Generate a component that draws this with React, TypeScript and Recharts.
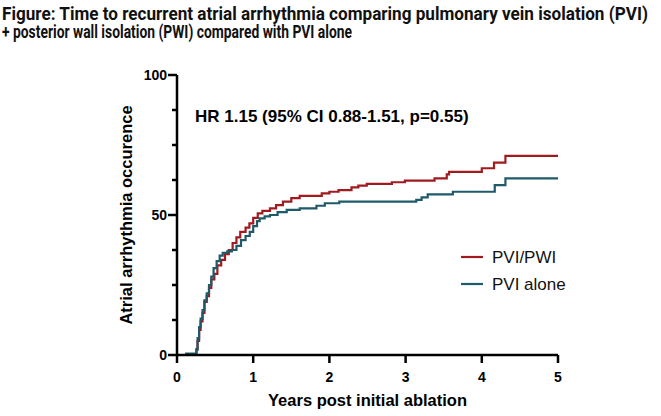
import React, { useLayoutEffect, useRef, useState } from 'react';
import { ComposedChart, Line, XAxis, YAxis, Legend } from 'recharts';

// Kaplan-Meier style cumulative incidence, years vs percent
const pviPwiYears = [0, 0.255, 0.27, 0.29, 0.31, 0.335, 0.36, 0.39, 0.42, 0.45, 0.49, 0.53, 0.58, 0.63, 0.68, 0.73, 0.78, 0.83, 0.9, 0.95, 1.0, 1.06, 1.12, 1.22, 1.3, 1.39, 1.5, 1.61, 1.9, 2.0, 2.12, 2.29, 2.38, 2.49, 2.82, 2.99, 3.38, 3.54, 3.57, 4.0, 4.16, 4.31, 5.0];
const pviPwiEvents = [0, 2, 5, 9, 12, 15, 19, 21, 24, 27, 29, 32, 34, 36, 37.5, 40, 42, 44, 45.5, 47, 49, 50.6, 51.5, 52.4, 53.5, 54.8, 56, 56.8, 57.7, 58.3, 58.9, 59.9, 60.5, 61.1, 61.7, 62.3, 63.1, 64.5, 65.4, 66.7, 68.7, 71.1, 71.1];

const pviAloneYears = [0, 0.12, 0.255, 0.27, 0.29, 0.31, 0.335, 0.36, 0.39, 0.42, 0.45, 0.48, 0.52, 0.56, 0.6, 0.66, 0.72, 0.78, 0.84, 0.9, 0.955, 1.0, 1.05, 1.085, 1.15, 1.22, 1.32, 1.44, 1.61, 1.83, 1.94, 2.13, 3.14, 3.21, 3.29, 3.62, 4.17, 4.31, 5.0];
const pviAloneEvents = [0, 0.5, 2, 6, 10, 13, 16, 19.5, 22, 25, 28, 31, 33.5, 35.5, 36.5, 37, 37.5, 39, 41, 42.5, 44, 46, 47.8, 48.8, 49.5, 50, 51, 51.8, 52.4, 53.3, 54.2, 54.8, 55.4, 56.3, 57.4, 58.3, 60.7, 63.1, 63.1];

const xTicks = [0, 1, 2, 3, 4, 5];
const yTicks = [0, 12.5, 25, 37.5, 50, 62.5, 75, 87.5, 100];
const yLabelled = [0, 50, 100];

const titleLines = [
  'Figure: Time to recurrent atrial arrhythmia comparing pulmonary vein isolation (PVI)',
  '+ posterior wall isolation (PWI) compared with PVI alone',
];
const hazardText = 'HR 1.15 (95% CI 0.88-1.51, p=0.55)';

const RED = '#a01b1f';
const TEAL = '#1e5a6a';

const pviPwiData = pviPwiYears.map((t, i) => ({ t, v: pviPwiEvents[i] }));
const pviAloneData = pviAloneYears.map((t, i) => ({ t, v: pviAloneEvents[i] }));

const series = [
  { name: 'PVI/PWI', color: RED },
  { name: 'PVI alone', color: TEAL },
];

const ARIAL = '"Liberation Sans", Arial, sans-serif';
const TITLE_FONT = 'Roboto, sans-serif';

// Horizontally condensed text: measured once, then squeezed to the given width
const NarrowText = ({ x, y, width, children }: { x: number; y: number; width: number; children: string }) => {
  const ref = useRef<SVGTextElement>(null);
  const [sx, setSx] = useState(0.72);
  useLayoutEffect(() => {
    if (ref.current) {
      const len = ref.current.getComputedTextLength();
      if (len > 0) setSx(width / len);
    }
  }, [width, children]);
  return (
    <g transform={`translate(${x}, ${y}) scale(${sx}, 1)`}>
      <text ref={ref} x={0} y={0} fontFamily={TITLE_FONT} fontWeight={700} fontSize={19} fill="#111">
        {children}
      </text>
    </g>
  );
};

const XTick = (props: any) => {
  const { x, y, payload } = props;
  return (
    <g>
      <line x1={x} x2={x} y1={y} y2={y + 8} stroke="#000" strokeWidth={2.5} />
      <text x={x} y={y + 27} textAnchor="middle" fontFamily={ARIAL} fontWeight={700} fontSize={14} fill="#000">
        {payload.value}
      </text>
    </g>
  );
};

const YTick = (props: any) => {
  const { x, y, payload } = props;
  const major = yLabelled.includes(payload.value);
  return (
    <g>
      <line x1={x} x2={x - (major ? 9 : 5)} y1={y} y2={y} stroke="#000" strokeWidth={2.5} />
      {major && (
        <text x={x - 10} y={y + 5} textAnchor="end" fontFamily={ARIAL} fontWeight={700} fontSize={14} fill="#000">
          {payload.value}
        </text>
      )}
    </g>
  );
};

const LegendBox = () => (
  <svg width={160} height={60}>
    {series.map((s, i) => (
      <g key={s.name} transform={`translate(0, ${12 + i * 27})`}>
        <line x1={6} x2={28} y1={0} y2={0} stroke={s.color} strokeWidth={2.2} />
        <text x={37} y={6} fontFamily={ARIAL} fontSize={17} fill="#111">
          {s.name}
        </text>
      </g>
    ))}
  </svg>
);

export default function App() {
  return (
    <div style={{ position: 'absolute', left: 0, top: 0, width: 661, height: 416, background: '#fff' }}>
      <svg width={661} height={416} style={{ position: 'absolute', left: 0, top: 0 }}>
        <NarrowText x={2} y={19.5} width={646}>{titleLines[0]}</NarrowText>
        <NarrowText x={2} y={38} width={350}>{titleLines[1]}</NarrowText>
        <text x={195} y={122} fontFamily={ARIAL} fontWeight={700} fontSize={17} fill="#000">
          {hazardText}
        </text>
      </svg>
      <div style={{ position: 'absolute', left: 0, top: 0 }}>
        <ComposedChart width={661} height={416} margin={{ top: 75, right: 103, left: 0, bottom: 0 }}>
          <XAxis
            type="number"
            dataKey="t"
            domain={[0, 5]}
            ticks={xTicks}
            allowDataOverflow
            height={61}
            axisLine={{ stroke: '#000', strokeWidth: 2.5 }}
            tickLine={false}
            tickSize={0}
            tickMargin={0}
            tick={<XTick />}
            label={{
              value: 'Years post initial ablation',
              position: 'insideBottom',
              offset: 10,
              fill: '#000',
              fontFamily: ARIAL,
              fontWeight: 700,
              fontSize: 16.5,
            }}
          />
          <YAxis
            type="number"
            domain={[0, 100]}
            ticks={yTicks}
            interval={0}
            width={177}
            axisLine={{ stroke: '#000', strokeWidth: 2.5 }}
            tickLine={false}
            tickSize={0}
            tickMargin={0}
            tick={<YTick />}
            label={{
              value: 'Atrial arrhythmia occurence',
              angle: -90,
              position: 'center',
              dx: 38,
              fill: '#000',
              fontFamily: ARIAL,
              fontWeight: 700,
              fontSize: 16.5,
            }}
          />
          <Legend
            layout="vertical"
            align="center"
            verticalAlign="middle"
            content={<LegendBox />}
            wrapperStyle={{ position: 'absolute', left: 455, top: 245, width: 160 }}
          />
          <Line data={pviPwiData} dataKey="v" name="PVI/PWI" type="stepAfter" stroke={RED} strokeWidth={2.2} dot={false} isAnimationActive={false} />
          <Line data={pviAloneData} dataKey="v" name="PVI alone" type="stepAfter" stroke={TEAL} strokeWidth={2.2} dot={false} isAnimationActive={false} />
        </ComposedChart>
      </div>
    </div>
  );
}
